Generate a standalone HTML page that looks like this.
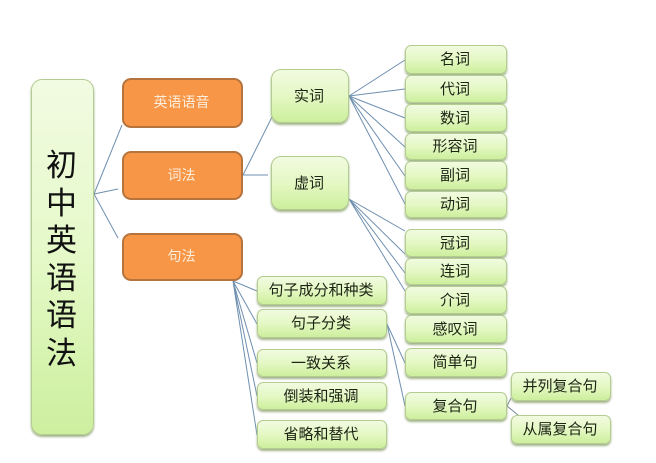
<!DOCTYPE html>
<html><head><meta charset="utf-8">
<style>
html,body{margin:0;padding:0;background:#fff;}
#p{position:relative;width:656px;height:463px;overflow:hidden;background:#fff;font-family:"Liberation Sans","Noto Sans CJK SC",sans-serif;}
svg{position:absolute;left:0;top:0;}
.n{position:absolute;box-sizing:border-box;display:flex;align-items:center;justify-content:center;color:#1c2414;font-size:15px;white-space:nowrap;padding:0 2px 2px 0;}
.g{background:linear-gradient(#f1fbe0 0%,#e4f8c4 50%,#cdef9c 100%);border:1px solid #b3cc90;border-radius:6px;box-shadow:0 2px 2px #a2b38a;}
.o{background:#f79646;border:2px solid #b5743d;border-radius:9px;color:#fdeedd;font-size:14px;}
</style></head><body><div id="p">
<svg width="656" height="463" fill="none" stroke="#6f8fb0" stroke-width="1">
<path d="M94 194L122 125M94 194L118 189M94 194L118 238"/>
<path d="M243 175L272 117M243 175L268 175"/>
<path d="M349 96L405 60M349 96L405 89M349 96L405 118M349 96L405 147M349 96L405 176M349 96L405 204"/>
<path d="M349 199L405 231M349 199L405 254M349 199L405 273M349 199L405 291"/>
<path d="M233 281L257 291M233 281L257 324M233 281L257 363M233 281L257 396M233 281L257 435"/>
<path d="M387 324L405 363M387 324L405 406"/>
<path d="M507 406L511 398M507 406L518 415" stroke="#7a8a96"/>
</svg>
<div class="n g" style="left:31px;top:79px;width:63px;height:356px;border-radius:11px;background:linear-gradient(#f1fbe2 0%,#e5f9c8 50%,#cdef9e 100%);"></div>
<div style="position:absolute;left:30px;top:147px;width:63px;text-align:center;font-size:31px;line-height:37.6px;color:#111;font-family:'Liberation Sans','Noto Sans CJK SC',sans-serif;">初<br>中<br>英<br>语<br>语<br>法</div>
<div class="n o" style="left:122px;top:78px;width:121px;height:50px;">英语语音</div>
<div class="n o" style="left:122px;top:151px;width:121px;height:49px;">词法</div>
<div class="n o" style="left:122px;top:233px;width:121px;height:48px;">句法</div>
<div class="n g" style="left:271px;top:69px;width:78px;height:54px;border-radius:10px;">实词</div>
<div class="n g" style="left:271px;top:156px;width:78px;height:54px;border-radius:10px;">虚词</div>
<div class="n g" style="left:405px;top:45px;width:102px;height:29px;">名词</div>
<div class="n g" style="left:405px;top:75px;width:102px;height:28px;">代词</div>
<div class="n g" style="left:405px;top:104px;width:102px;height:28px;">数词</div>
<div class="n g" style="left:405px;top:133px;width:102px;height:27px;">形容词</div>
<div class="n g" style="left:405px;top:161px;width:102px;height:29px;">副词</div>
<div class="n g" style="left:405px;top:191px;width:102px;height:27px;">动词</div>
<div class="n g" style="left:405px;top:229px;width:102px;height:28px;">冠词</div>
<div class="n g" style="left:405px;top:258px;width:102px;height:27px;">连词</div>
<div class="n g" style="left:405px;top:286px;width:102px;height:28px;">介词</div>
<div class="n g" style="left:405px;top:315px;width:102px;height:28px;">感叹词</div>
<div class="n g" style="left:405px;top:348px;width:102px;height:29px;">简单句</div>
<div class="n g" style="left:405px;top:392px;width:102px;height:28px;">复合句</div>
<div class="n g" style="left:257px;top:276px;width:130px;height:29px;">句子成分和种类</div>
<div class="n g" style="left:257px;top:309px;width:130px;height:29px;">句子分类</div>
<div class="n g" style="left:257px;top:349px;width:130px;height:28px;">一致关系</div>
<div class="n g" style="left:257px;top:382px;width:130px;height:28px;">倒装和强调</div>
<div class="n g" style="left:257px;top:420px;width:130px;height:29px;">省略和替代</div>
<div class="n g" style="left:511px;top:372px;width:100px;height:29px;">并列复合句</div>
<div class="n g" style="left:511px;top:415px;width:100px;height:29px;">从属复合句</div>
</div></body></html>
